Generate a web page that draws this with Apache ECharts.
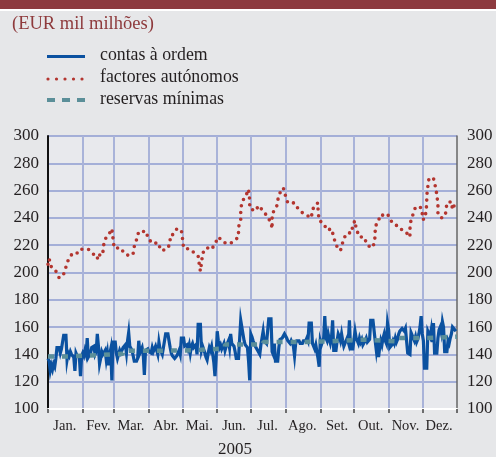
<!DOCTYPE html>
<html>
<head>
<meta charset="utf-8">
<script src="https://cdn.jsdelivr.net/npm/echarts@6/dist/echarts.min.js"></script>
<style>
  html, body { margin: 0; padding: 0; background: #e6e7e9; }
  #chart { width: 496px; height: 457px; }
</style>
</head>
<body>
<div id="chart"></div>
<script>
// Month labels and lengths for 2005
const monthNames = ['Jan.', 'Fev.', 'Mar.', 'Abr.', 'Mai.', 'Jun.', 'Jul.', 'Ago.', 'Set.', 'Out.', 'Nov.', 'Dez.'];
const monthDays = [31, 28, 31, 30, 31, 30, 31, 31, 30, 31, 30, 31];
const yearLabel = '2005';
const yTicks = { min: 100, max: 300, step: 20 };

// Contas à ordem, daily values (EUR mil milhões), day 0 = 1 Jan
const contasJan = [137,135,128,132,129,133,131,137,145,144,145,141,144,143,154,154,154,136,141,139,142,140,141,138,128,141,139,140,138,124,139];
const contasFev = [141,139,143,140,152,138,137,141,145,144,146,140,142,155,146,133,137,142,140,141,143,136,141,132,140,144,121,149];
const contasMar = [149,149,141,137,140,143,141,142,145,144,147,141,150,156,146,145,143,139,135,135,135,137,150,141,143,145,140,125,143,142,144];
const contasAbr = [142,143,141,145,142,143,146,143,140,149,144,142,140,145,146,155,156,155,155,145,141,139,138,137,138,139,141,143,140,152];
const contasMai = [152,152,146,145,147,144,147,141,146,148,145,144,147,140,162,163,162,143,146,145,141,138,136,141,145,143,146,140,134,124,137];
const contasJun = [157,150,145,147,144,145,148,143,146,147,150,145,155,148,147,146,142,137,137,137,138,165,164,155,150,147,146,145,135,121];
const contasJul = [155,153,150,148,146,145,143,142,140,147,152,157,150,149,148,148,166,166,166,142,140,148,135,135,135,145,151,150,152,153,155];
const contasAgo = [155,152,150,149,148,150,148,146,139,148,150,149,150,148,147,148,150,151,150,152,150,163,163,163,148,146,144,147,142,137,131];
const contasSet = [150,147,146,152,168,152,150,155,151,148,152,165,143,143,143,150,155,153,150,155,150,146,148,150,152,149,165,144,144,144];
const contasOut = [144,157,152,150,148,152,149,151,147,148,150,152,149,150,151,165,165,165,165,150,143,150,138,145,150,147,152,155,150,148,163];
const contasNov = [158,145,144,147,150,148,152,149,151,155,157,158,159,158,157,159,158,141,140,140,156,157,152,150,153,149,151,155,160,168];
const contasDez = [155,150,130,130,130,157,155,153,158,149,163,141,141,141,152,158,160,156,164,160,142,142,142,150,148,152,155,160,160,158,157];

// Factores autónomos (day of year, value)
const factoresDias = [0,1,3,7,10,14,16,17,18,21,25,28,30,36,40,44,45,47,49,50,52,56,57,58,59,65,68,73,76,77,79,81,86,88,89,94,98,101,106,107,109,109,112,115,119,120,121,127,131,134,135,136,137,138,141,144,146,149,152,157,158,162,166,170,170,172,172,173,176,179,180,180,180,185,188,191,194,197,199,200,200,204,206,210,212,214,220,223,228,233,235,236,239,241,241,242,246,249,253,255,257,261,262,264,267,271,272,274,275,278,282,285,289,291,292,292,295,296,299,303,305,309,313,317,320,323,323,324,326,328,332,334,334,336,337,338,338,339,340,344,346,347,348,348,351,354,355,356,360,361,363,364];
const factoresValores = [206,210,204,201,196,199,204,203,209,213,213,217,217,217,214,210,214,212,215,222,226,230,232,225,218,218,214,212,214,219,224,230,230,230,225,221,222,216,217,217,221,227,228,232,231,225,218,217,214,212,206,201,207,214,218,218,217,221,226,222,223,221,223,226,233,239,245,252,255,261,260,253,247,245,249,246,243,239,237,232,243,248,257,262,256,251,251,247,243,241,240,246,250,251,245,238,236,231,232,226,220,216,219,225,229,229,235,238,232,226,226,220,218,221,227,234,237,242,242,243,239,235,234,230,229,226,232,239,243,248,248,246,239,239,243,250,256,263,269,269,262,257,250,243,240,241,244,251,252,246,250,249];

// Reservas mínimas: start day of each maintenance period and its level
const reservasDias = [0,18,38,67,101,130,158,192,220,248,283,311,339,365];
const reservasValores = [138.5,139.2,140.5,142.7,143,144.4,147.2,149,149.5,150.8,149.6,152,153,153];

const contasOrdem = [].concat(contasJan, contasFev, contasMar, contasAbr, contasMai, contasJun,
  contasJul, contasAgo, contasSet, contasOut, contasNov, contasDez);

// Month boundaries and mid points on the daily axis
const monthStarts = [];
const monthMids = [];
let acc = 0;
monthDays.forEach(function (d) {
  monthStarts.push(acc);
  monthMids.push(acc + Math.floor(d / 2));
  acc += d;
});
monthStarts.push(acc);
const dayCount = acc; // 365
const dayCategories = [];
for (let i = 0; i <= dayCount; i++) dayCategories.push(String(i));

function monthOfDay(i) {
  let m = 0;
  while (m < 11 && i >= monthStarts[m + 1]) m++;
  return m;
}

const serif = '"Liberation Serif", "DejaVu Serif", serif';
const textColor = '#231f20';

const chart = echarts.init(document.getElementById('chart'), null, { renderer: 'canvas' });

chart.setOption({
  backgroundColor: '#e6e7e9',
  animation: false,
  grid: { left: 48, right: 39, top: 136, bottom: 48, show: true, backgroundColor: '#e8e9ed', borderWidth: 0 },
  xAxis: {
    type: 'category',
    data: dayCategories,
    boundaryGap: false,
    axisLine: { show: true, lineStyle: { color: '#ffffff', width: 2 } },
    axisTick: {
      show: true, length: 4,
      interval: function (i) { return monthStarts.indexOf(i) >= 0; },
      lineStyle: { color: '#444', width: 1.5 }
    },
    axisLabel: {
      interval: function (i) { return monthMids.indexOf(i) >= 0; },
      formatter: function (v) { return monthNames[monthOfDay(parseInt(v, 10))]; },
      fontFamily: serif, fontSize: 14.5, color: textColor, margin: 10
    },
    splitLine: {
      show: true,
      interval: function (i) { return monthStarts.indexOf(i) > 0 && i < dayCount; },
      lineStyle: { color: '#a9b3d9', width: 2 }
    }
  },
  yAxis: [
    {
      type: 'value', min: yTicks.min, max: yTicks.max, interval: yTicks.step,
      axisLine: { show: true, lineStyle: { color: '#111', width: 2 } },
      axisTick: { show: false },
      axisLabel: { fontFamily: serif, fontSize: 17, color: textColor, margin: 9 },
      splitLine: { show: true, lineStyle: { color: '#8e9bd1', width: 1.5 } }
    },
    {
      type: 'value', min: yTicks.min, max: yTicks.max, interval: yTicks.step, position: 'right',
      axisLine: { show: true, lineStyle: { color: '#666', width: 1.5 } },
      axisTick: { show: false },
      axisLabel: { fontFamily: serif, fontSize: 17, color: textColor, margin: 10 },
      splitLine: { show: false }
    }
  ],
  series: [
    {
      name: 'factores autónomos', type: 'line', showSymbol: false, z: 3,
      data: factoresDias.map(function (d, i) { return [d, factoresValores[i]]; }),
      lineStyle: { color: '#b3352f', width: 3.6, type: [0, 6.8], cap: 'round', join: 'round' }
    },
    {
      name: 'contas à ordem', type: 'line', showSymbol: false, z: 4,
      data: contasOrdem.map(function (v, i) { return [i, v]; }),
      lineStyle: { color: '#0b51a0', width: 3.2, join: 'miter' }
    },
    {
      name: 'reservas mínimas', type: 'line', showSymbol: false, z: 5, step: 'end',
      data: reservasDias.map(function (d, i) { return [d, reservasValores[i]]; }),
      lineStyle: { color: '#5b8f99', width: 4.5, type: [6, 8] }
    }
  ],
  graphic: [
    { type: 'rect', shape: { x: 0, y: 0, width: 496, height: 9 }, style: { fill: '#8d3a3f' } },
    { type: 'rect', shape: { x: 0, y: 9, width: 496, height: 2 }, style: { fill: '#ffffff' } },
    { type: 'text', x: 12, y: 24.5, style: { text: '(EUR mil milhões)', font: '18.5px ' + serif, fill: '#8e3a3c', verticalAlign: 'middle' } },
    // legend samples
    { type: 'line', shape: { x1: 47, y1: 56.5, x2: 85, y2: 56.5 }, style: { stroke: '#0b51a0', lineWidth: 3.2 } },
    { type: 'line', shape: { x1: 48, y1: 79, x2: 84, y2: 79 }, style: { stroke: '#b3352f', lineWidth: 3.2, lineDash: [0, 8.5], lineCap: 'round' } },
    { type: 'line', shape: { x1: 47, y1: 100, x2: 85, y2: 100 }, style: { stroke: '#5b8f99', lineWidth: 4, lineDash: [8, 7] } },
    { type: 'text', x: 100, y: 55, style: { text: 'contas à ordem', font: '17.8px ' + serif, fill: textColor, verticalAlign: 'middle' } },
    { type: 'text', x: 100, y: 77, style: { text: 'factores autónomos', font: '17.8px ' + serif, fill: textColor, verticalAlign: 'middle' } },
    { type: 'text', x: 100, y: 99, style: { text: 'reservas mínimas', font: '17.8px ' + serif, fill: textColor, verticalAlign: 'middle' } },
    { type: 'text', x: 235, y: 450, style: { text: yearLabel, font: '17px ' + serif, fill: textColor, align: 'center', verticalAlign: 'middle' } }
  ]
});
</script>
</body>
</html>
